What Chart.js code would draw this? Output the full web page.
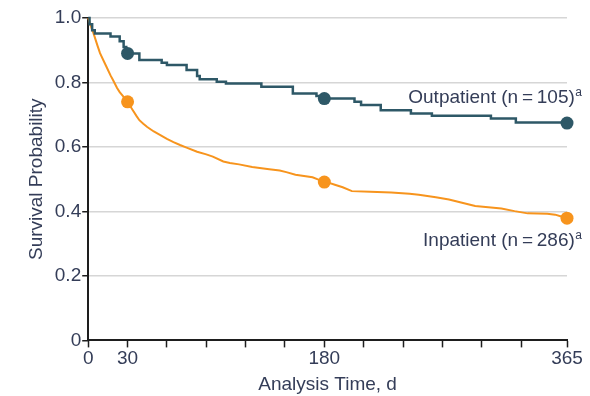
<!DOCTYPE html>
<html>
<head>
<meta charset="utf-8">
<script src="https://cdn.jsdelivr.net/npm/chart.js@4"></script>
<style>
  html, body { margin: 0; padding: 0; background: #fff; }
  #wrap { width: 590px; height: 396px; }
</style>
</head>
<body>
<div id="wrap"><canvas id="survivalChart"></canvas></div>
<script>
// Kaplan-Meier style curves (day, survival)
const outDays = [0, 1, 3, 5, 17, 24, 27, 29, 39, 56, 60, 75, 83, 85, 98, 105, 132, 156, 174, 178, 203, 208, 223, 246, 262, 307, 326, 365];
const outSurv = [1.0, 0.981, 0.962, 0.952, 0.943, 0.928, 0.91, 0.89, 0.870, 0.861, 0.854, 0.839, 0.820, 0.810, 0.802, 0.797, 0.787, 0.766, 0.758, 0.750, 0.740, 0.730, 0.714, 0.704, 0.697, 0.688, 0.676, 0.674];

const inDays = [0, 2, 4, 7, 9, 12, 14, 17, 19, 22, 24, 27, 30, 34, 37, 39, 42, 45, 50, 55, 60, 65, 70, 75, 83, 90, 95, 103, 108, 115, 125, 138, 146, 151, 158, 171, 176, 182, 188, 194, 201, 215, 231, 245, 252, 265, 275, 285, 295, 305, 315, 325, 335, 350, 356, 360, 365];
const inSurv = [1.0, 0.975, 0.953, 0.915, 0.891, 0.865, 0.848, 0.822, 0.807, 0.783, 0.770, 0.755, 0.740, 0.714, 0.695, 0.683, 0.672, 0.662, 0.648, 0.637, 0.625, 0.615, 0.606, 0.598, 0.585, 0.577, 0.570, 0.555, 0.550, 0.546, 0.538, 0.531, 0.527, 0.522, 0.514, 0.506, 0.498, 0.491, 0.483, 0.475, 0.463, 0.461, 0.459, 0.455, 0.452, 0.444, 0.437, 0.427, 0.417, 0.413, 0.409, 0.401, 0.394, 0.393, 0.390, 0.385, 0.379];

// highlighted time points
const markDays = [30, 180, 365];
const outMarks = [0.89, 0.75, 0.674];
const inMarks = [0.740, 0.491, 0.379];

// axes
const xTickValues = [0, 30, 60, 90, 120, 150, 180, 210, 240, 270, 300, 330, 365];
const xLabeled = [0, 30, 180, 365];
const yTickValues = [0, 0.2, 0.4, 0.6, 0.8, 1.0];
const yTickLabels = ["0", "0.2", "0.4", "0.6", "0.8", "1.0"];

const seriesLabels = ["Outpatient (n\u2009=\u2009105)", "Inpatient (n\u2009=\u2009286)"];

const TEAL = "#2e5867";
const ORANGE = "#f7941d";
const TEXT = "#343d58";
const AXIS = "#1e1e1e";
const FONT = "'Liberation Sans', Arial, sans-serif";

const toPts = (xs, ys) => xs.map((x, i) => ({ x: x, y: ys[i] }));

// curve end labels with the superscript a
const curveLabels = {
    id: "curveLabels",
    afterDatasetsDraw(chart) {
        const { ctx, scales: { x, y } } = chart;
        const right = x.getPixelForValue(365) + 15;
        const items = [
            { text: seriesLabels[0], y: y.getPixelForValue(0.752) },
            { text: seriesLabels[1], y: y.getPixelForValue(0.31) }
        ];
        ctx.save();
        ctx.fillStyle = TEXT;
        ctx.textBaseline = "middle";
        items.forEach(it => {
            ctx.font = "12px " + FONT;
            const supW = ctx.measureText("a").width;
            ctx.textAlign = "left";
            ctx.fillText("a", right - supW, it.y - 5);
            ctx.font = "19px " + FONT;
            ctx.textAlign = "right";
            ctx.fillText(it.text, right - supW - 0.5, it.y);
        });
        ctx.restore();
    }
};

new Chart(document.getElementById("survivalChart"), {
    type: "line",
    data: {
        datasets: [
            {
                label: "Outpatient",
                data: toPts(outDays, outSurv),
                borderColor: TEAL,
                borderWidth: 2.5,
                stepped: "before",
                pointRadius: 0
            },
            {
                label: "Inpatient",
                data: toPts(inDays, inSurv),
                borderColor: ORANGE,
                borderWidth: 2,
                pointRadius: 0
            },
            {
                label: "Outpatient marks",
                data: toPts(markDays, outMarks),
                showLine: false,
                pointRadius: 6.5,
                pointBackgroundColor: TEAL,
                pointBorderWidth: 0
            },
            {
                label: "Inpatient marks",
                data: toPts(markDays, inMarks),
                showLine: false,
                pointRadius: 6.5,
                pointBackgroundColor: ORANGE,
                pointBorderWidth: 0
            }
        ]
    },
    options: {
        responsive: true,
        maintainAspectRatio: false,
        animation: false,
        clip: false,
        layout: { padding: { left: 25, right: 23, top: 18, bottom: 0 } },
        plugins: { legend: { display: false }, tooltip: { enabled: false } },
        scales: {
            x: {
                type: "linear",
                min: 0,
                max: 365,
                afterBuildTicks: scale => {
                    scale.ticks = xTickValues.map(v => ({ value: v }));
                },
                ticks: {
                    autoSkip: false,
                    maxRotation: 0,
                    padding: 0,
                    color: TEXT,
                    font: { family: FONT, size: 19 },
                    callback: v => (xLabeled.includes(v) ? String(v) : "")
                },
                grid: {
                    drawOnChartArea: false,
                    drawTicks: true,
                    tickLength: 7,
                    tickColor: AXIS,
                    tickWidth: 1.5
                },
                border: { display: true, color: AXIS, width: 2 },
                title: {
                    display: true,
                    text: "Analysis Time, d",
                    color: TEXT,
                    font: { family: FONT, size: 19 },
                    padding: { top: 3, bottom: 0 }
                }
            },
            y: {
                min: 0,
                max: 1,
                afterBuildTicks: scale => {
                    scale.ticks = yTickValues.map(v => ({ value: v }));
                },
                ticks: {
                    padding: 1,
                    color: TEXT,
                    font: { family: FONT, size: 19 },
                    callback: (v, i) => yTickLabels[i]
                },
                grid: {
                    color: ctx => (ctx.tick && ctx.tick.value === 0 ? "rgba(0,0,0,0)" : "#d6d6d6"),
                    lineWidth: 1.5,
                    drawTicks: true,
                    tickLength: 6,
                    tickColor: AXIS,
                    tickWidth: 1.5
                },
                border: { display: true, color: AXIS, width: 2 },
                title: {
                    display: true,
                    text: "Survival Probability",
                    color: TEXT,
                    font: { family: FONT, size: 19 },
                    padding: { top: 0, bottom: 6 }
                }
            }
        }
    },
    plugins: [curveLabels]
});
</script>
</body>
</html>
